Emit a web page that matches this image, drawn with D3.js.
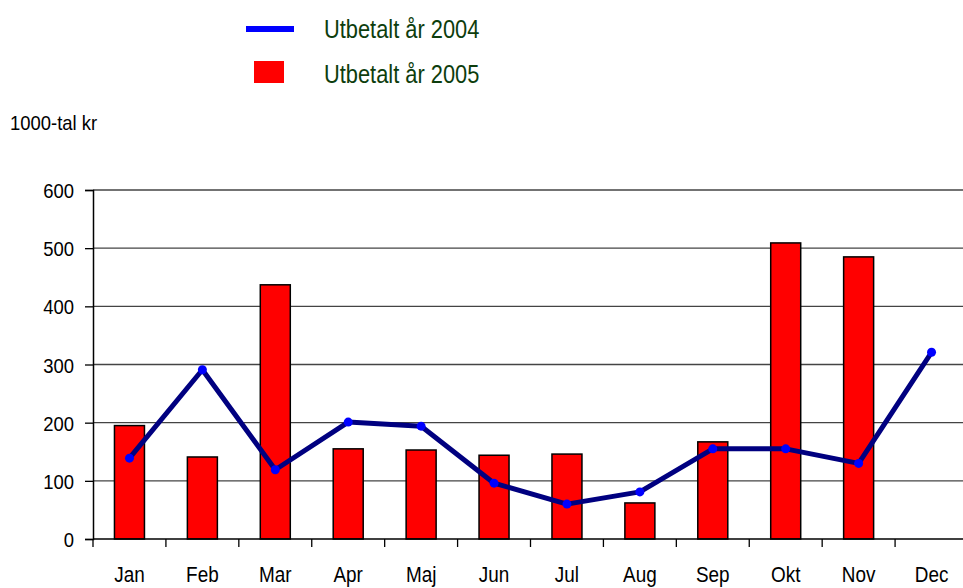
<!DOCTYPE html>
<html>
<head>
<meta charset="utf-8">
<script src="https://cdn.jsdelivr.net/npm/d3@7"></script>
<style>
  body { margin: 0; background: #fff; }
  svg { display: block; font-family: "Liberation Sans", Arial, sans-serif; }
</style>
</head>
<body>
<svg id="chart" width="963" height="588"></svg>
<script>
const months = ['Jan', 'Feb', 'Mar', 'Apr', 'Maj', 'Jun', 'Jul', 'Aug', 'Sep', 'Okt', 'Nov', 'Dec'];
const paid2005 = [195, 141, 437, 155, 153, 144, 146, 62, 167, 509, 485, null];
const paid2004 = [139, 291, 119, 201, 194, 96, 60, 81, 155, 155, 130, 321];
const yTicks = [0, 100, 200, 300, 400, 500, 600];

const svg = d3.select('#chart');

const plotLeft = 93, plotRight = 968, plotTop = 190, plotBottom = 539;

const x = d3.scaleBand()
  .domain(months)
  .range([plotLeft, plotRight]);

const y = d3.scaleLinear()
  .domain([0, 600])
  .range([plotBottom, plotTop]);

// text in the picture is a bit narrower than plain Arial
function narrowText(g, px, py, size, sx, str, anchor) {
  return g.append('text')
    .attr('transform', `translate(${px},${py}) scale(${sx},1)`)
    .attr('text-anchor', anchor || 'start')
    .attr('font-size', size)
    .text(str);
}

// gridlines
svg.append('g')
  .selectAll('line')
  .data(yTicks.filter(d => d > 0))
  .join('line')
  .attr('x1', plotLeft)
  .attr('x2', plotRight)
  .attr('y1', d => y(d))
  .attr('y2', d => y(d))
  .attr('stroke', '#444')
  .attr('stroke-width', 1.3);

// bars
const barW = 30;
svg.append('g')
  .selectAll('rect')
  .data(months.map((m, i) => ({m, v: paid2005[i]})).filter(d => d.v != null))
  .join('rect')
  .attr('x', d => x(d.m) + x.bandwidth() / 2 - barW / 2)
  .attr('y', d => y(d.v))
  .attr('width', barW)
  .attr('height', d => y(0) - y(d.v))
  .attr('fill', '#ff0000')
  .attr('stroke', '#000')
  .attr('stroke-width', 1.5);

// y axis
const axisY = d3.axisLeft(y).tickValues(yTicks).tickSize(8);
const gy = svg.append('g')
  .attr('transform', `translate(${plotLeft},0)`)
  .call(axisY);
gy.select('.domain').attr('stroke', '#000').attr('stroke-width', 1.5);
gy.selectAll('.tick line').attr('stroke', '#000').attr('stroke-width', 1.3);
gy.selectAll('.tick text')
  .attr('x', null)
  .attr('dy', '0.36em')
  .attr('transform', 'translate(-19,0) scale(0.88,1)')
  .attr('font-size', 21)
  .attr('fill', '#000')
  .attr('font-family', '"Liberation Sans", Arial, sans-serif');

// x axis
const xTickScale = d3.scaleLinear().domain([0, 12]).range([plotLeft, plotRight]);
svg.append('g')
  .selectAll('line')
  .data(d3.range(0, 12))
  .join('line')
  .attr('x1', d => xTickScale(d))
  .attr('x2', d => xTickScale(d))
  .attr('y1', plotBottom)
  .attr('y2', plotBottom + 8)
  .attr('stroke', '#000')
  .attr('stroke-width', 1.3);
svg.append('line')
  .attr('x1', plotLeft).attr('x2', plotRight)
  .attr('y1', plotBottom).attr('y2', plotBottom)
  .attr('stroke', '#000').attr('stroke-width', 1.5);
const gx = svg.append('g').attr('fill', '#000');
months.forEach(m => narrowText(gx, x(m) + x.bandwidth() / 2, 582, 22, 0.86, m, 'middle'));

// line 2004
const line = d3.line()
  .x((d, i) => x(months[i]) + x.bandwidth() / 2)
  .y(d => y(d));

svg.append('path')
  .datum(paid2004)
  .attr('fill', 'none')
  .attr('stroke', '#000080')
  .attr('stroke-width', 5)
  .attr('stroke-linejoin', 'round')
  .attr('d', line);

svg.append('g')
  .selectAll('circle')
  .data(paid2004)
  .join('circle')
  .attr('cx', (d, i) => x(months[i]) + x.bandwidth() / 2)
  .attr('cy', d => y(d))
  .attr('r', 4.5)
  .attr('fill', '#0000ff');

// unit label
narrowText(svg, 10, 130, 20.5, 0.9, '1000-tal kr').attr('fill', '#000');

// legend
const legend = svg.append('g');
legend.append('line')
  .attr('x1', 246).attr('x2', 294)
  .attr('y1', 29).attr('y2', 29)
  .attr('stroke', '#0000ff')
  .attr('stroke-width', 6);
legend.append('rect')
  .attr('x', 254).attr('y', 61)
  .attr('width', 30).attr('height', 22)
  .attr('fill', '#ff0000');
narrowText(legend, 324, 38, 26, 0.84, 'Utbetalt år 2004').attr('fill', '#0d3d0d');
narrowText(legend, 324, 83, 26, 0.84, 'Utbetalt år 2005').attr('fill', '#0d3d0d');
</script>
</body>
</html>
